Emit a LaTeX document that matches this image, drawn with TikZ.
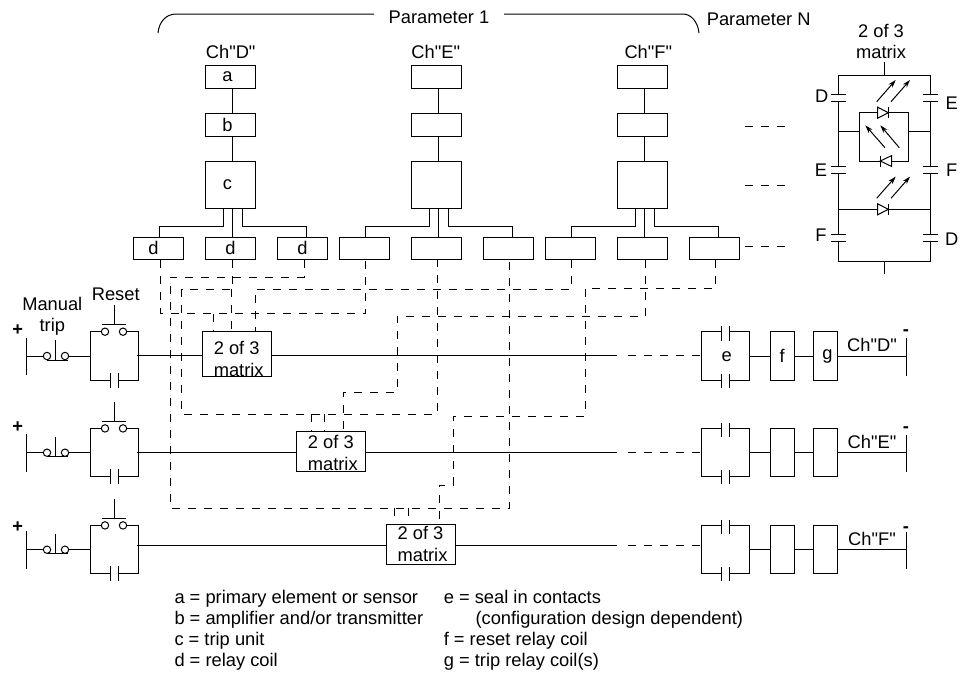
\documentclass[tikz,border=0pt]{standalone}
\usepackage{fontspec}
\setmainfont{Liberation Sans}[Ligatures=TeXOff]
\usetikzlibrary{arrows.meta}
\tikzset{
  every node/.style={font=\fontsize{18.3}{21}\selectfont, inner sep=0pt},
  box/.style={rectangle, draw, minimum width=50pt, minimum height=22.3pt},
  tallbox/.style={box, minimum height=46.3pt},
  coilbox/.style={rectangle, draw, minimum width=24.3pt, minimum height=48.3pt},
  matrixbox/.style={rectangle, draw, minimum width=69pt, minimum height=40pt, align=center},
  knob/.style={circle, draw, fill=white, minimum size=7.4pt},
  wire/.style={dash pattern=on 8pt off 8pt},
  ray/.style={-{Stealth[length=8pt, width=5pt]}},
  led/.style={draw, fill=white},
}
\begin{document}
\begin{tikzpicture}[x=1pt, y=-1pt, line width=1pt]
  \useasboundingbox (0, 0) rectangle (960, 675);
  % Header
  \node (param1) at (439, 17) {Parameter 1};
  \node (paramN) at (758.7, 19) {Parameter N};
  \coordinate (braceL) at (158, 33);
  \coordinate (braceLend) at (374, 14);
  \coordinate (braceR) at (699, 33);
  \coordinate (braceRstart) at (504, 14);
  \draw (braceL) .. controls (159, 22) and (166, 14) .. (176, 14) -- (braceLend);
  \draw (braceRstart) -- (683, 14) .. controls (691, 14) and (698, 22) .. (braceR);
  \node (chD) at (230.7, 52.3) {Ch"D"};
  \node (chE) at (435.7, 52.3) {Ch"E"};
  \node (chF) at (648.3, 52.3) {Ch"F"};
  % Sensor chains
  \node (a1) [box] at (230, 76.9) {a\kern5pt};
  \node (b1) [box] at (230, 124.9) {b\kern5pt};
  \node (c1) [tallbox] at (230, 184.9) {c\kern5pt};
  \node (a2) [box] at (436, 76.9) {};
  \node (b2) [box] at (436, 124.9) {};
  \node (c2) [tallbox] at (436, 184.9) {};
  \node (a3) [box] at (642, 76.9) {};
  \node (b3) [box] at (642, 124.9) {};
  \node (c3) [tallbox] at (642, 184.9) {};
  % Relay coils
  \node (d1) [box] at (158, 248.2) {d\kern9pt};
  \node (d2) [box] at (230, 248.2) {\kern1pt d};
  \node (d3) [box] at (302, 248.2) {\kern1pt d};
  \node (d4) [box] at (364, 248.2) {};
  \node (d5) [box] at (436, 248.2) {};
  \node (d6) [box] at (508, 248.2) {};
  \node (d7) [box] at (570, 248.2) {};
  \node (d8) [box] at (642, 248.2) {};
  \node (d9) [box] at (714, 248.2) {};
  % Chain connections
  \foreach \n/\l/\m/\r in {1/d1/d2/d3, 2/d4/d5/d6, 3/d7/d8/d9} {
    \draw ([xshift=2.5pt]a\n.south) -- ([xshift=2.5pt]b\n.north);
    \draw ([xshift=2.5pt]b\n.south) -- ([xshift=2.5pt]c\n.north);
    \draw ([xshift=2.5pt]c\n.south) -- ([xshift=2.5pt]\m.north);
    \draw ([xshift=-7pt]c\n.south) -- ++(0, 17.7) -| ([xshift=1pt]\l.north);
    \draw ([xshift=12pt]c\n.south) -- ++(0, 17.7) -| ([xshift=4pt]\r.north);
  }
  % Continuation to parameter N
  \coordinate (moreA) at (745, 126.7);
  \coordinate (moreAend) at (785, 126.7);
  \coordinate (moreB) at (745, 185.7);
  \coordinate (moreBend) at (785, 185.7);
  \coordinate (moreC) at (745, 246.7);
  \coordinate (moreCend) at (785, 246.7);
  \draw[wire] (moreA) -- (moreAend);
  \draw[wire] (moreB) -- (moreBend);
  \draw[wire] (moreC) -- (moreCend);
  % 2 of 3 boxes
  \node (matrix1) [matrixbox] at (236.7, 354.2) {\rule{0pt}{23pt}2 of 3\\[1pt]\hspace{4pt}matrix};
  \node (matrix2) [matrixbox] at (330.8, 451.4) {\rule{0pt}{17pt}2 of 3\\[1pt]\hspace{4pt}matrix};
  \node (matrix3) [matrixbox] at (420.5, 544) {2 of 3\\[1pt]\hspace{4pt}matrix};
  % Wiring between coils and boxes
  \foreach \d/\s in {d1/2.7, d2/2.7, d3/2.3, d4/1.7, d5/1.4, d6/1.5, d7/1.7, d8/3.4, d9/1.7} {
    \coordinate (\d out) at ([xshift=\s pt]\d.south);
  }
  \coordinate (busA) at (0, 313.7);
  \coordinate (busB) at (0, 277);
  \coordinate (busC) at (0, 289);
  \coordinate (busD) at (0, 316.7);
  \coordinate (busE) at (0, 508);
  \coordinate (busF) at (0, 414.3);
  \coordinate (busG) at (0, 288);
  \coordinate (turnB) at (170, 277);
  \coordinate (turnC) at (181.7, 289);
  \coordinate (turnD) at (397, 392.3);
  \coordinate (turnG) at (585, 416);
  \coordinate (turnH) at (453.3, 485);
  \coordinate (m1a) at ([xshift=-23pt]matrix1.north);
  \coordinate (m1b) at ([xshift=-5.6pt]matrix1.north);
  \coordinate (m1c) at ([xshift=18.4pt]matrix1.north);
  \coordinate (m2a) at ([xshift=-19.8pt]matrix2.north);
  \coordinate (m2b) at ([xshift=-6.8pt]matrix2.north);
  \coordinate (m2c) at ([xshift=12.2pt]matrix2.north);
  \coordinate (m3a) at ([xshift=-26.5pt]matrix3.north);
  \coordinate (m3b) at ([xshift=-11.8pt]matrix3.north);
  \coordinate (m3c) at ([xshift=18.5pt]matrix3.north);
  \draw[wire] (d1out) |- (busA -| d4out) -- (d4out);
  \draw[wire] (d3out) |- (turnB) |- (busE -| d6out) -- (d6out);
  \draw[wire] (d2out) |- (turnC) |- (busF -| d5out) -- (d5out);
  \draw[wire] (d7out) |- (busC -| m1c) -- (m1c);
  \draw[wire] (d8out) |- (busD -| turnD) -- (turnD) -- (turnD -| m2c) -- (m2c);
  \draw[wire] (d9out) |- (busG -| turnG) -- (turnG) -- (turnG -| turnH) -- (turnH) -- (turnH -| m3c) -- (m3c);
  \draw[wire] (busA -| m1a) -- (m1a);
  \draw[wire] (busC -| m1b) -- (m1b);
  \draw[wire] (busF -| m2a) -- (m2a);
  \draw[wire] (busF -| m2b) -- (m2b);
  \draw[wire] (busE -| m3a) -- (m3a);
  \draw[wire] (busE -| m3b) -- (m3b);
  % Trip rungs
  \node (manual) [align=center] at (52.3, 316) {Manual\\trip};
  \node (reset) at (115.7, 294) {Reset};
  \foreach \n/\y/\m/\dm/\pl/\ch/\ftext/\gtext in {1/356/-0.3/-0.3/-26/D/f/g, 2/452.7/-0.7/0/-26/E//, 3/549.7/-4.7/-4/-23/F//} {
    \begin{scope}[shift={(0, \y)}]
      \node (plus\n) at (17.7, \pl) {\bfseries +};
      \coordinate (railP\n) at (26.7, 0);
      \draw (26.7, -18.5) -- (26.7, 19);
      \draw (47, 4) -- (68, 4);
      \draw (55.7, -16) -- (55.7, 4);
      \node (tripA\n) [knob] at (47, 0) {};
      \node (tripB\n) [knob] at (65, 0) {};
      \draw (railP\n) -- (tripA\n);
      \coordinate (blockL\n) at (90, 0);
      \draw (tripB\n) -- (blockL\n);
      % Reset contacts
      \node (resetA\n) [knob] at (105, -24.3) {};
      \node (resetB\n) [knob] at (123, -24.3) {};
      \draw (blockL\n) -- (90, -24.3) -- (resetA\n);
      \draw (resetB\n) -- (138, -24.3) -- (138, 24) -- (118, 24);
      \draw (blockL\n) -- (90, 24) -- (110.3, 24);
      \draw (102.3, -31.7) -- (126, -31.7);
      \draw (114, -51) -- (114, -31.7);
      \draw (110.3, 16.7) -- (110.3, 31.7);
      \draw (118, 16.7) -- (118, 31.7);
      % Main line
      \coordinate (mainS\n) at (137, \m);
      \coordinate (mainE\n) at (616.5, \m);
      \coordinate (dashS\n) at (628, \dm);
      \coordinate (dashE\n) at (701.7, \dm);
      \draw (mainS\n) -- (matrix\n.west |- mainS\n);
      \draw (matrix\n.east |- mainS\n) -- (mainE\n);
      \draw[wire] (dashS\n) -- (dashE\n);
      % Seal in contacts
      \draw (721.7, -24.3) -- (701.7, -24.3) -- (701.7, 24) -- (721.7, 24);
      \draw (729.3, -24.3) -- (749.7, -24.3) -- (749.7, 24) -- (729.3, 24);
      \draw (721.7, -30) -- (721.7, -15.5);
      \draw (729.3, -30) -- (729.3, -15.5);
      \draw (721.7, 17.5) -- (721.7, 31.7);
      \draw (729.3, 17.5) -- (729.3, 31.7);
      \coordinate (sealR\n) at (749.7, 0);
      \node (f\n) [coilbox] at (782.2, 0) {\ftext};
      \node (g\n) [coilbox] at (825.5, 0) {\kern4pt\gtext};
      \coordinate (railM\n) at (906, 0);
      \draw (sealR\n) -- (f\n);
      \draw (f\n) -- (g\n);
      \draw (g\n) -- (railM\n);
      \draw (906, -18) -- (906, 19.5);
      \node (minus\n) at (906, \pl + 3) {\bfseries -};
      \node (rung\ch) at (872, -11) {Ch"\ch"};
    \end{scope}
  }
  \node (sealtext) at (726.7, 357) {e};
  % Matrix detail
  \node (mtitle) [align=center] at (881, 41) {2 of 3\\matrix};
  \node (lD) at (821.7, 96.7) {D};
  \node (rE) at (951.7, 103.3) {E};
  \node (lE) at (821, 170.7) {E};
  \node (rF) at (951.7, 170.7) {F};
  \node (lF) at (821, 235) {F};
  \node (rD) at (951.7, 239) {D};
  \coordinate (mtop) at (884.3, 62.3);
  \coordinate (mbot) at (884.3, 274.3);
  \draw (mtop) -- (884.3, 75.3);
  \draw (884.3, 261.3) -- (mbot);
  \draw (838.7, 94.3) -- (838.7, 75.3) -- (930.7, 75.3) -- (930.7, 94.3);
  \draw (838.7, 241.7) -- (838.7, 261.3) -- (930.7, 261.3) -- (930.7, 241.7);
  \foreach \x in {838.7, 930.7} {
    \draw (\x, 101) -- (\x, 166);
    \draw (\x, 173.3) -- (\x, 234.3);
    \foreach \p in {94.3, 101, 166, 173.3, 234.3, 241.7} {
      \draw (\x - 7.5, \p) -- (\x + 7.5, \p);
    }
  }
  \draw (859, 112.7) rectangle (908.7, 161);
  \draw (838.7, 131) -- (859, 131);
  \draw (908.7, 131) -- (930.7, 131);
  \draw (838.7, 209.3) -- (930.7, 209.3);
  \foreach \yy in {112.7, 209.3} {
    \begin{scope}[shift={(883, \yy)}]
      \draw[led] (-5.3, -5.5) -- (5.3, 0) -- (-5.3, 5.5) -- cycle;
      \draw (5.3, -5.5) -- (5.3, 5.5);
      \draw[ray] (-6.3, -11) -- (12.7, -32.7);
      \draw[ray] (8, -11) -- (27, -32.7);
    \end{scope}
  }
  \begin{scope}[shift={(886, 161)}]
    \draw[led] (5.7, -5.5) -- (-5.7, 0) -- (5.7, 5.5) -- cycle;
    \draw (-5.7, -5.5) -- (-5.7, 5.5);
    \draw[ray] (-1, -13.3) -- (-20.7, -35.7);
    \draw[ray] (13.3, -13.3) -- (-5.7, -35.7);
  \end{scope}
  % Legend
  \node (keyA) [anchor=base west] at (174, 603.3) {a = primary element or sensor};
  \node (keyB) [anchor=base west] at (174, 624.3) {b = amplifier and/or transmitter};
  \node (keyC) [anchor=base west] at (174, 645.3) {c = trip unit};
  \node (keyD) [anchor=base west] at (174, 666.7) {d = relay coil};
  \node (keyE) [anchor=base west] at (443.3, 603.3) {e = seal in contacts};
  \node (keyEx) [anchor=base west] at (475, 624.3) {(configuration design dependent)};
  \node (keyF) [anchor=base west] at (443.3, 645.3) {f = reset relay coil};
  \node (keyG) [anchor=base west] at (443.3, 666.7) {g = trip relay coil(s)};
\end{tikzpicture}
\end{document}
